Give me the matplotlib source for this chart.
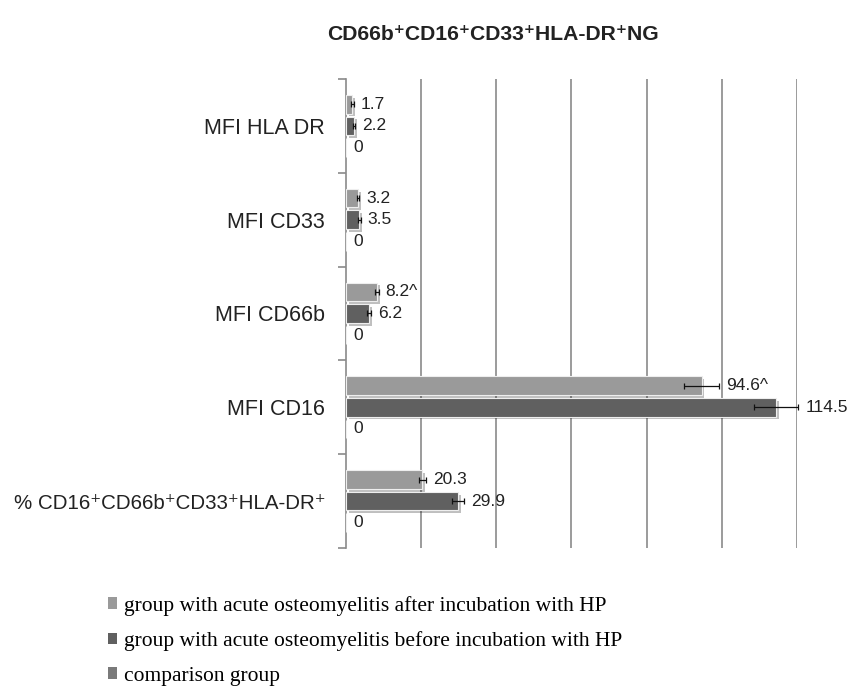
import matplotlib
matplotlib.use("Agg")
import matplotlib.pyplot as plt
import matplotlib.patheffects as pe
from matplotlib.patches import Patch
import numpy as np

SANS = ["Liberation Sans", "DejaVu Sans"]
SERIF = ["Liberation Serif", "DejaVu Serif"]

categories = ["MFI HLA DR", "MFI CD33", "MFI CD66b", "MFI CD16",
              "% CD16\u207aCD66b\u207aCD33\u207aHLA-DR\u207a"]
after = [1.7, 3.2, 8.2, 94.6, 20.3]
after_err = [0.3, 0.3, 0.5, 4.7, 1.0]
after_labels = ["1.7", "3.2", "8.2^", "94.6^", "20.3"]
before = [2.2, 3.5, 6.2, 114.5, 29.9]
before_err = [0.3, 0.4, 0.5, 5.9, 1.6]
before_labels = ["2.2", "3.5", "6.2", "114.5", "29.9"]
comparison = [0, 0, 0, 0, 0]
comparison_labels = ["0", "0", "0", "0", "0"]

legend_names = ["group with acute osteomyelitis after incubation with HP",
                "group with acute osteomyelitis before incubation with HP",
                "comparison group"]
LIGHT, DARK, MID = "#9a9a9a", "#606060", "#7a7a7a"

fig = plt.figure(figsize=(8.59, 6.92), dpi=100)
ax = fig.add_axes([0.4028, 0.208, 0.525, 0.678])

y = np.arange(len(categories))
off, h = 0.23, 0.198
shadow = [pe.SimplePatchShadow(offset=(2, -2), shadow_rgbFace="k", alpha=0.25), pe.Normal()]

series = [(after, after_err, after_labels, LIGHT, -off),
          (before, before_err, before_labels, DARK, 0.0),
          (comparison, None, comparison_labels, MID, off)]
for vals, errs, labs, col, dy in series:
    bars = ax.barh(y + dy, vals, height=h, color=col, edgecolor="#eeeeee", lw=0.8,
                   xerr=errs, error_kw=dict(ecolor="#111111", elinewidth=0.9, capsize=2.5, capthick=0.9),
                   zorder=3)
    for b in bars:
        b.set_path_effects(shadow)
    if bars.errorbar is not None:
        for ln in bars.errorbar.lines:
            for art in (ln if isinstance(ln, tuple) else [ln]):
                if art is not None:
                    art.set_clip_on(False)
    for i, (v, lab) in enumerate(zip(vals, labs)):
        e = errs[i] if errs else 0
        ax.annotate(lab, (v + e, y[i] + dy), xytext=(5, 0), textcoords="offset points",
                    va="center", ha="left", fontsize=12.5, family=SANS, color="#222222",
                    annotation_clip=False)

ax.set_xlim(0, 120)
ax.set_ylim(len(categories) - 0.5, -0.5)
ax.set_xticks(np.arange(20, 121, 20))
ax.tick_params(axis="x", length=0, labelbottom=False)
ax.grid(axis="x", color="#8a8a8a", lw=1.2, zorder=0)
ax.set_yticks(y)
ax.set_yticklabels(categories, fontsize=15.5, family=SANS, color="#222222")
ax.get_yticklabels()[-1].set_fontsize(14.8)
ax.set_yticks(np.arange(-0.5, len(categories), 1), minor=True)
ax.tick_params(axis="y", which="major", length=0, pad=15)
ax.tick_params(axis="y", which="minor", length=6, color="#8a8a8a", width=1.2)
for s in ["top", "right", "bottom"]:
    ax.spines[s].set_visible(False)
ax.spines["left"].set_color("#8a8a8a")
ax.spines["left"].set_linewidth(1.2)

fig.text(0.574, 0.950, "CD66b\u207aCD16\u207aCD33\u207aHLA-DR\u207aNG", ha="center", va="center",
         fontsize=15.2, fontweight="bold", family=SANS, color="#222222")

handles = [Patch(facecolor=c, edgecolor="none") for c in (LIGHT, DARK, MID)]
fig.legend(handles, legend_names, loc="upper left", bbox_to_anchor=(0.126, 0.139),
           bbox_transform=fig.transFigure, frameon=False, prop=dict(family=SERIF, size=15.5),
           handlelength=0.42, handleheight=0.42, handletextpad=0.3, labelspacing=0.72,
           borderaxespad=0, borderpad=0)

fig.savefig("out.png", dpi=100)
